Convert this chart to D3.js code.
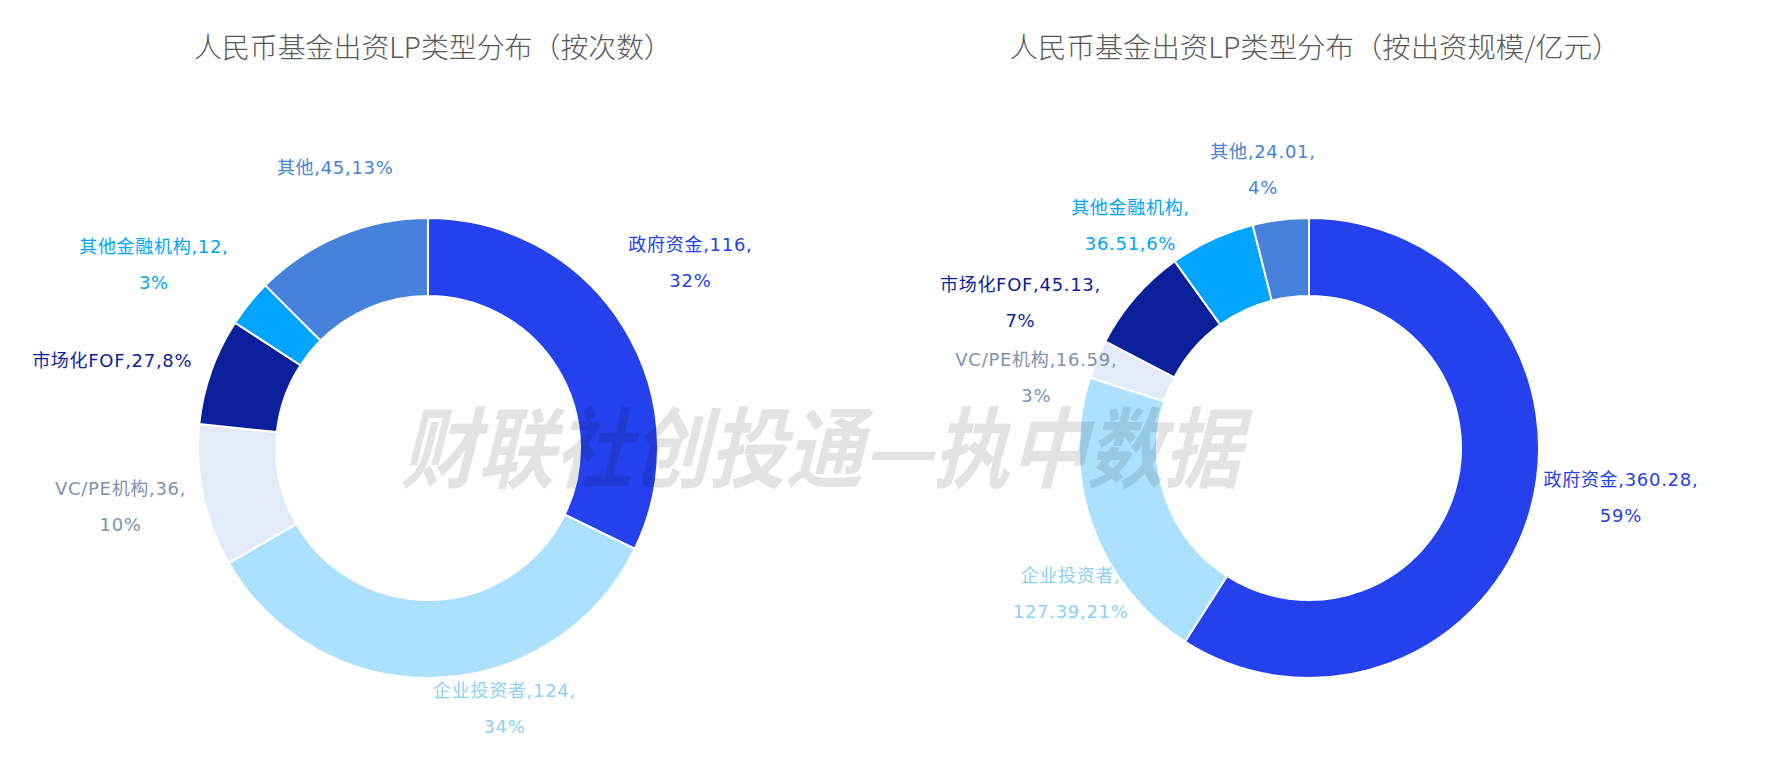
<!DOCTYPE html>
<html><head><meta charset="utf-8">
<script src="https://cdn.jsdelivr.net/npm/d3@7/dist/d3.min.js"></script>
<style>
html,body{margin:0;padding:0;background:#fff;}
svg{display:block;}
</style></head>
<body>
<svg id="chart" width="1765" height="769"></svg>
<script>
// ---------- data ----------
const categories = ["政府资金","企业投资者","VC/PE机构","市场化FOF","其他金融机构","其他"];
const countValues = [116, 124, 36, 27, 12, 45];
const amountValues = [360.28, 127.39, 16.59, 45.13, 36.51, 24.01];
const titles = ["人民币基金出资LP类型分布（按次数）", "人民币基金出资LP类型分布（按出资规模/亿元）"];
// line break position in each label: 0 none, 1 after name, 2 after value
const countBreaks = [2, 2, 2, 0, 2, 0];
const amountBreaks = [2, 1, 2, 2, 1, 2];

// ---------- style ----------
const sliceColors = ["#2541ee","#abe1fe","#e2ecf8","#0c1f9a","#01a4fe","#4682db"];
const labelColors = ["#2541ee","#8dd0f8","#8092ae","#0c1f9a","#01a4fe","#4682db"];
const outerR = 230, innerR = 152, labelR = 300;
const charts = [
  {cx: 428, cy: 448, values: countValues, breaks: countBreaks, title: titles[0], titleX: 433, titleW: 478,
   nudge: [[8,-27],[66,-39],[-14,-4],[-33,13],[-41,5],[22,-3]]},
  {cx: 1309, cy: 448, values: amountValues, breaks: amountBreaks, title: titles[1], titleX: 1315, titleW: 611,
   nudge: [[24,-35],[44,44],[4,45],[-62,51],[-52,49],[-9,19]]}
];
const labelFont = "'DejaVu Sans', 'Noto Sans CJK SC', sans-serif";

const svg = d3.select("#chart");
const pie = d3.pie().sort(null).value(d => d.v).startAngle(0).endAngle(2*Math.PI);
const arc = d3.arc().innerRadius(innerR).outerRadius(outerR);
const labelArc = d3.arc().innerRadius(labelR).outerRadius(labelR);

charts.forEach(ch => {
  const data = categories.map((c,i) => ({name: c, v: ch.values[i], i}));
  const total = d3.sum(ch.values);
  const arcs = pie(data);

  svg.append("text")
    .attr("x", ch.titleX).attr("y", 46)
    .attr("text-anchor", "middle").attr("dominant-baseline", "central")
    .attr("textLength", ch.titleW).attr("lengthAdjust", "spacingAndGlyphs")
    .style("font-family", "'Noto Sans CJK SC', sans-serif")
    .style("font-size", "28px").style("font-weight", 300)
    .style("fill", "#595959")
    .text(ch.title);

  const g = svg.append("g").attr("transform", `translate(${ch.cx},${ch.cy})`);
  g.selectAll("path").data(arcs).join("path")
    .attr("d", arc)
    .attr("fill", d => sliceColors[d.data.i])
    .attr("stroke", "#fff").attr("stroke-width", 2);

  arcs.forEach(a => {
    const i = a.data.i;
    const pct = Math.round(a.data.v / total * 100) + "%";
    const name = a.data.name, val = String(a.data.v);
    let lines;
    if (ch.breaks[i] === 0) lines = [name + "," + val + "," + pct];
    else if (ch.breaks[i] === 1) lines = [name + ",", val + "," + pct];
    else lines = [name + "," + val + ",", pct];
    const c = labelArc.centroid(a);
    const x = c[0] + ch.nudge[i][0], y = c[1] + ch.nudge[i][1];
    const lh = 36;
    const t = g.append("text")
      .attr("text-anchor", "middle")
      .style("font-family", labelFont).style("font-size", "18px")
      .style("letter-spacing", "0.7px")
      .style("fill", labelColors[i]);
    lines.forEach((ln, k) => {
      t.append("tspan").attr("x", x)
        .attr("y", y + (k - (lines.length - 1) / 2) * lh)
        .attr("dominant-baseline", "central")
        .text(ln);
    });
  });
});

// watermark
svg.append("text")
  .attr("transform", "translate(830,443) skewX(-14)")
  .attr("text-anchor", "middle").attr("dominant-baseline", "central")
  .attr("textLength", 840).attr("lengthAdjust", "spacingAndGlyphs")
  .style("font-family", "'Noto Sans CJK SC', sans-serif")
  .style("font-size", "88px").style("font-weight", 700)
  .style("fill", "rgba(0,0,0,0.11)")
  .text("财联社创投通—执中数据");
</script>
</body></html>
